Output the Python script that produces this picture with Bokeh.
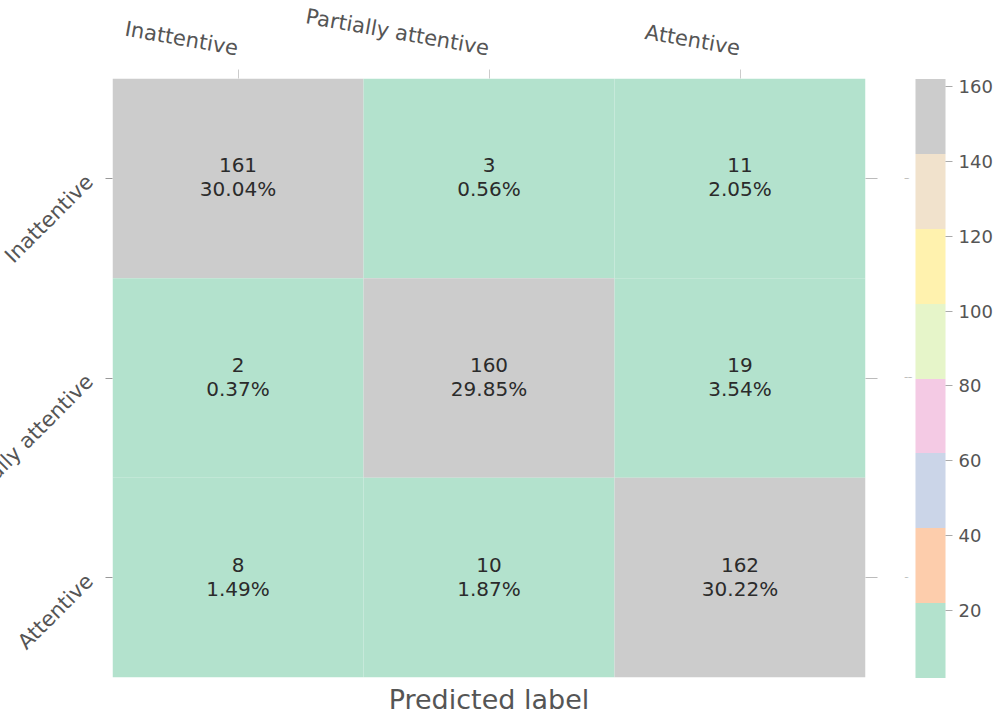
import math

from bokeh.core.properties import value
from bokeh.embed import file_html
from bokeh.models import CategoricalAxis, ColorBar, ColumnDataSource, FixedTicker, LinearColorMapper
from bokeh.palettes import Pastel2
from bokeh.plotting import figure
from bokeh.resources import INLINE
from bokeh.transform import transform

# Confusion matrix: rows = true label, columns = predicted label
class_names = ["Inattentive", "Partially attentive", "Attentive"]
row_inattentive = [161, 3, 11]
row_partial = [2, 160, 19]
row_attentive = [8, 10, 162]
colorbar_ticks = [20, 40, 60, 80, 100, 120, 140, 160]

counts = [row_inattentive, row_partial, row_attentive]
total = sum(sum(r) for r in counts)

FONT = "DejaVu Sans"
TEXT_DARK = "#2b2b2b"
TEXT_GRAY = "#555555"

pred, true, vals, cnt_txt, pct_txt = [], [], [], [], []
for i, row in enumerate(counts):
    for j, v in enumerate(row):
        true.append(class_names[i])
        pred.append(class_names[j])
        vals.append(v)
        cnt_txt.append(str(v))
        pct_txt.append(f"{v / total:.2%}")

src = ColumnDataSource(dict(pred=pred, true=true, v=vals, cnt=cnt_txt, pct=pct_txt))

LEFT_BORDER = 185
TOP_BORDER = 92
p = figure(
    x_range=class_names, y_range=list(reversed(class_names)),
    x_axis_location="above",
    frame_width=753, frame_height=599,
    output_backend="svg", toolbar_location=None,
    min_border_left=LEFT_BORDER, min_border_top=TOP_BORDER,
    min_border_bottom=40, min_border_right=0,
)
# the long rotated row names run off the left edge of the page
p.styles = {"margin-left": f"-{LEFT_BORDER - 112}px",
            "margin-top": f"-{TOP_BORDER - 78}px"}
p.outline_line_color = None
p.xgrid.visible = False
p.ygrid.visible = False

mapper = LinearColorMapper(palette=Pastel2[8], low=min(vals), high=max(vals))

p.rect(x="pred", y="true", width=1, height=1, source=src,
       fill_color=transform("v", mapper), line_color=None)

text_kw = dict(text_align="center", text_baseline="middle",
               text_font=value(FONT), text_font_size="20px",
               text_color=TEXT_DARK)
p.text(x="pred", y="true", text="cnt", y_offset=-13, source=src, **text_kw)
p.text(x="pred", y="true", text="pct", y_offset=11, source=src, **text_kw)

# top axis: predicted classes
xa = p.xaxis[0]
xa.major_label_orientation = -math.radians(10)
xa.major_label_text_font = FONT
xa.major_label_text_font_size = "21px"
xa.major_label_text_color = TEXT_GRAY
xa.major_label_standoff = 21
xa.major_tick_in = 0
xa.major_tick_out = 9
xa.major_tick_line_color = "#cccccc"
xa.axis_line_color = None

# left axis: true classes
ya = p.yaxis[0]
ya.major_label_orientation = math.radians(45)
ya.major_label_text_font = FONT
ya.major_label_text_font_size = "21px"
ya.major_label_text_color = TEXT_GRAY
ya.major_label_standoff = 16
ya.major_tick_in = 0
ya.major_tick_out = 7
ya.major_tick_line_color = "#999999"
ya.axis_line_color = None

blank = {name: " " for name in class_names}

right_axis = CategoricalAxis(major_label_overrides=blank, major_tick_in=0,
                             major_tick_out=12, major_tick_line_color="#bbbbbb",
                             major_label_standoff=27,
                             major_label_text_font_size="1px",
                             axis_line_color=None)
p.add_layout(right_axis, "right")

bottom_axis = CategoricalAxis(major_label_overrides=blank,
                              axis_label="Predicted label",
                              axis_label_text_font=FONT,
                              axis_label_text_font_size="27px",
                              axis_label_text_font_style="normal",
                              axis_label_text_color=TEXT_GRAY,
                              axis_label_standoff=6,
                              major_tick_in=0, major_tick_out=0,
                              major_tick_line_color=None,
                              major_label_standoff=0,
                              major_label_text_font_size="1px",
                              major_label_text_color=None,
                              axis_line_color=None)
p.add_layout(bottom_axis, "below")

cbar = ColorBar(color_mapper=mapper, ticker=FixedTicker(ticks=colorbar_ticks),
                width=30, height=599, margin=37, padding=0,
                location="center_left",
                major_tick_in=0, major_tick_out=7,
                major_tick_line_color="#aaaaaa",
                major_label_text_font=FONT,
                major_label_text_font_size="18px",
                major_label_text_color=TEXT_GRAY,
                label_standoff=6, bar_line_color=None,
                border_line_color=None)
p.add_layout(cbar, "right")

open("out.html", "w").write(file_html(p, INLINE))
